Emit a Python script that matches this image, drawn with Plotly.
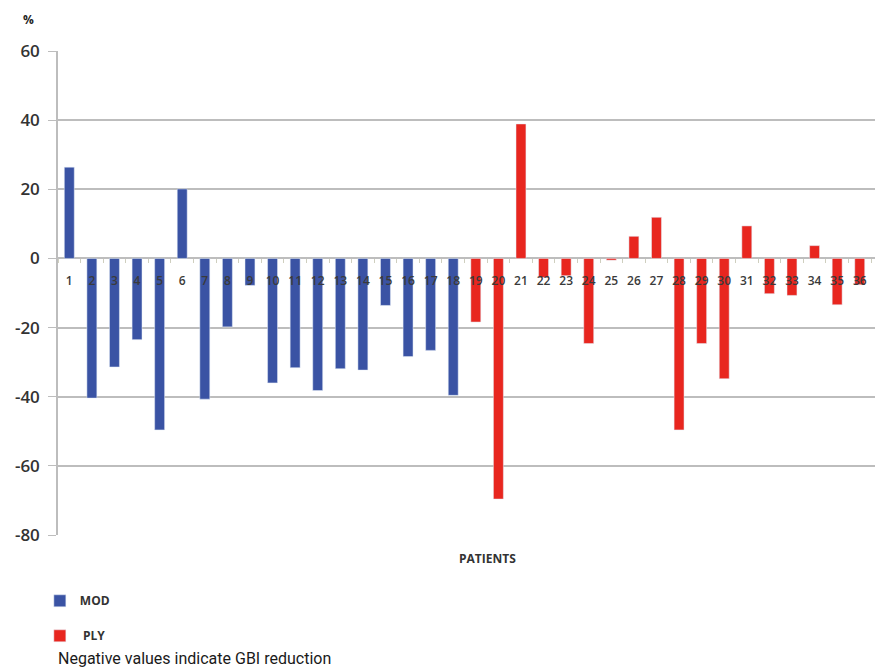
import plotly.graph_objects as go

# ---- data ----
mod_patients = [1, 2, 3, 4, 5, 6, 7, 8, 9, 10, 11, 12, 13, 14, 15, 16, 17, 18]
mod_values = [26.4, -40.4, -31.4, -23.5, -49.6, 20.1, -40.7, -19.8, -7.8, -36.0,
              -31.6, -38.2, -31.9, -32.3, -13.6, -28.4, -26.6, -39.6]
ply_patients = [19, 20, 21, 22, 23, 24, 25, 26, 27, 28, 29, 30, 31, 32, 33, 34, 35, 36]
ply_values = [-18.4, -69.6, 38.9, -5.5, -5.0, -24.6, -0.5, 6.4, 11.9, -49.6,
              -24.6, -34.8, 9.4, -10.2, -10.7, 3.7, -13.4, -7.6]
tick_vals = [1, 2, 3, 4, 5, 6, 7, 8, 9, 10, 11, 12, 13, 14, 15, 16, 17, 18, 19,
             20, 21, 22, 23, 24, 25, 26, 27, 28, 29, 30, 31, 32, 33, 34, 35, 36, 37]
tick_text = ["1", "2", "3", "4", "5", "6", "7", "8", "9", "10", "11", "12", "13",
             "14", "15", "16", "17", "18", "19", "20", "21", "22", "23", "24", "25",
             "26", "27", "28", "29", "30", "31", "32", "33", "34", "35", "36", "37"]
y_ticks = [-80, -60, -40, -20, 0, 20, 40, 60]
y_labels = ["-80", "-60", "-40", "-20", "0", "20", "40", "60"]

BLUE = "#3A53A4"
RED = "#E8261F"
GRID = "#BDBDBD"
TXT = "#3a3a3a"

fig = go.Figure()
fig.add_trace(go.Bar(x=mod_patients, y=mod_values, name="MOD", marker_color=BLUE,
                     width=0.44, legendgroup="a"))
fig.add_trace(go.Bar(x=ply_patients, y=ply_values, name=" PLY", marker_color=RED,
                     width=0.44, legendgroup="b"))

y_min, y_max = -80, 60
fig.update_layout(
    width=875, height=663,
    margin=dict(l=50, r=0, t=43, b=136, autoexpand=False),
    paper_bgcolor="white", plot_bgcolor="white",
    barmode="overlay",
    font=dict(family="Open Sans", color=TXT),
    xaxis=dict(
        range=[0.5, 37.03], anchor="free",
        position=(0 - y_min) / (y_max - y_min),
        tickmode="array", tickvals=tick_vals, ticktext=tick_text,
        ticks="", showgrid=False, zeroline=False, showline=False,
        tickfont=dict(size=12, color="#3a3a3a", family="Open Sans", weight=600),
        ticklabelstandoff=14, ticklabeloverflow="allow",
        minor=dict(ticks="outside", tickmode="linear", tick0=0.5, dtick=1,
                   ticklen=4, tickcolor="#cfcfbf", showgrid=False),
    ),
    yaxis=dict(
        range=[y_min, y_max], tickmode="array", tickvals=y_ticks, ticktext=y_labels,
        showgrid=True, gridcolor=GRID, gridwidth=1.5,
        zeroline=True, zerolinecolor=GRID, zerolinewidth=1.5,
        showline=True, linecolor=GRID, linewidth=1.5,
        ticks="outside", ticklen=8, tickcolor=GRID,
        ticklabelstandoff=5,
        tickfont=dict(size=17, color="#333", family="Open Sans", weight=600),
    ),
    showlegend=True,
    legend=dict(x=-0.022, y=-0.106, xanchor="left", yanchor="top",
                orientation="v", traceorder="grouped", tracegroupgap=16,
                font=dict(size=12, color="#333", family="Open Sans", weight=700),
                bgcolor="rgba(0,0,0,0)"),
    annotations=[
        dict(text="%", xref="paper", yref="paper", x=-0.045, y=1.065,
             xanchor="left", yanchor="middle", showarrow=False,
             font=dict(size=12, color="#222", family="Open Sans", weight=700)),
        dict(text="PATIENTS", xref="paper", yref="paper", x=0.52, y=-0.048,
             xanchor="center", yanchor="middle", showarrow=False,
             font=dict(size=12, color="#333", family="Open Sans", weight=700)),
        dict(text="Negative values indicate GBI reduction", xref="paper", yref="paper",
             x=-0.002, y=-0.256, xanchor="left", yanchor="middle", showarrow=False,
             font=dict(size=16, color="#1a1a1a", family="Roboto")),
    ],
)

fig.write_html("out.html")
